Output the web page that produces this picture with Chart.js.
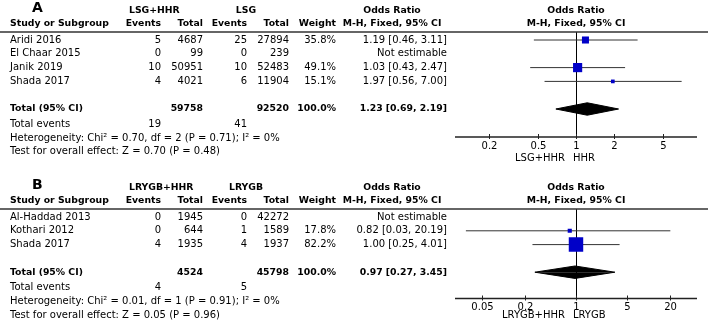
<!DOCTYPE html>
<html>
<head>
<meta charset="utf-8">
<script src="https://cdn.jsdelivr.net/npm/chart.js@4.4.0/dist/chart.umd.min.js"></script>
<style>
  html, body { margin: 0; padding: 0; background: #fff; }
  #wrap { position: relative; width: 708px; height: 325px; }
  canvas { position: absolute; left: 0; }
</style>
</head>
<body>
<div id="wrap">
  <canvas id="panelA" width="708" height="163" style="top:0"></canvas>
  <canvas id="panelB" width="708" height="162" style="top:163px"></canvas>
</div>
<script>
// Panel A: LSG+HHR vs LSG
const studiesA = ['Aridi 2016', 'El Chaar 2015', 'Janik 2019', 'Shada 2017'];
const eventsExpA = [5, 0, 10, 4];
const totalExpA = [4687, 99, 50951, 4021];
const eventsCtlA = [25, 0, 10, 6];
const totalCtlA = [27894, 239, 52483, 11904];
const weightA = [35.8, null, 49.1, 15.1];
const orA = [1.19, null, 1.03, 1.97];
const loA = [0.46, null, 0.43, 0.56];
const hiA = [3.11, null, 2.47, 7.00];
const pooledA = [1.23, 0.69, 2.19];          // OR, lower, upper
const sumsA = [59758, 92520, 19, 41];         // totals and total events
const hetA = [0.70, 2, 0.71, 0];              // Chi2, df, P, I2
const effectA = [0.70, 0.48];                 // Z, P
const ticksA = [0.2, 0.5, 1, 2, 5];
const groupsA = ['LSG+HHR', 'LSG'];
const favoursA = ['LSG+HHR', 'HHR'];

// Panel B: LRYGB+HHR vs LRYGB
const studiesB = ['Al-Haddad 2013', 'Kothari 2012', 'Shada 2017'];
const eventsExpB = [0, 0, 4];
const totalExpB = [1945, 644, 1935];
const eventsCtlB = [0, 1, 4];
const totalCtlB = [42272, 1589, 1937];
const weightB = [null, 17.8, 82.2];
const orB = [null, 0.82, 1.00];
const loB = [null, 0.03, 0.25];
const hiB = [null, 20.19, 4.01];
const pooledB = [0.97, 0.27, 3.45];
const sumsB = [4524, 45798, 4, 5];
const hetB = [0.01, 1, 0.91, 0];
const effectB = [0.05, 0.96];
const ticksB = [0.05, 0.2, 1, 5, 20];
const groupsB = ['LRYGB+HHR', 'LRYGB'];
const favoursB = ['LRYGB+HHR', 'LRYGB'];

const BLUE = '#0000c8';
const FONT = '"DejaVu Sans", Verdana, sans-serif';
const STEP = 13.8;   // px per table row
// right edges of the table columns
const COLS = { ev1: 161, tot1: 203, ev2: 247, tot2: 289, weight: 336, or: 447 };

function txt(ctx, s, x, y, align, bold, size) {
    // DejaVu bold runs wide, so shrink it a little to match the reference width
    const px = size || (bold ? 9.3 : 10);
    ctx.font = (bold ? 'bold ' : '') + px + 'px ' + FONT;
    ctx.textAlign = align || 'left';
    ctx.textBaseline = 'middle';
    ctx.fillStyle = '#000';
    ctx.fillText(s, x, y);
}

function ciText(or, lo, hi) {
    return `${or.toFixed(2)} [${lo.toFixed(2)}, ${hi.toFixed(2)}]`;
}

function makePanel(id, p) {
    const n = p.studies.length;
    const totalRow = n + 1;
    const yMax = (p.axisY - p.headerY - 8) / STEP;

    const idx = p.or.map((v, i) => i).filter(i => p.or[i] != null);
    const squares = {
        data: idx.map(i => ({ x: p.or[i], y: i })),
        pointStyle: 'rect',
        pointRadius: idx.map(i => (1.3 + 0.16 * p.weight[i]) / Math.SQRT2),
        backgroundColor: BLUE,
        borderWidth: 0
    };
    const ciLines = idx.map(i => ({
        data: [{ x: p.lo[i], y: i }, { x: p.hi[i], y: i }],
        showLine: true,
        borderColor: '#333',
        borderWidth: 1,
        pointRadius: 0
    }));
    const h = 0.45;
    const [est, plo, phi] = p.pooled;
    const diamondTop = {
        data: [{ x: plo, y: totalRow }, { x: est, y: totalRow - h }, { x: phi, y: totalRow }],
        showLine: true, tension: 0, pointRadius: 0,
        borderColor: '#000', borderWidth: 1,
        backgroundColor: '#000', fill: { value: totalRow }
    };
    const diamondBottom = Object.assign({}, diamondTop, {
        data: [{ x: plo, y: totalRow }, { x: est, y: totalRow + h }, { x: phi, y: totalRow }]
    });

    const forestPlugin = {
        id: 'forest',
        beforeDatasetsDraw(chart) {
            const { ctx, chartArea } = chart;
            const x1 = chart.scales.x.getPixelForValue(1);
            ctx.save();
            ctx.strokeStyle = '#000';
            ctx.lineWidth = 1;
            ctx.beginPath();
            ctx.moveTo(Math.round(x1) + 0.5, chartArea.top);
            ctx.lineTo(Math.round(x1) + 0.5, chartArea.bottom);
            ctx.stroke();
            ctx.restore();
        },
        afterDraw(chart) {
            const { ctx, chartArea } = chart;
            const xs = chart.scales.x, ys = chart.scales.y;
            const top = chartArea.top, bot = chartArea.bottom;
            ctx.save();
            // header rule
            ctx.strokeStyle = '#333';
            ctx.lineWidth = 1.5;
            ctx.beginPath();
            ctx.moveTo(0, top);
            ctx.lineTo(chart.width, top);
            ctx.stroke();
            // x axis
            ctx.strokeStyle = '#222';
            ctx.lineWidth = 1.3;
            ctx.beginPath();
            ctx.moveTo(chartArea.left, bot);
            ctx.lineTo(chartArea.right, bot);
            ctx.stroke();
            ctx.lineWidth = 1;
            p.ticks.forEach(t => {
                const x = Math.round(xs.getPixelForValue(t)) + 0.5;
                ctx.beginPath();
                ctx.moveTo(x, bot - 3);
                ctx.lineTo(x, bot + 2);
                ctx.stroke();
                txt(ctx, String(t), x, bot + 9, 'center');
            });
            const x1 = xs.getPixelForValue(1);
            txt(ctx, p.favours[0], x1 - 11, bot + p.labelGap, 'right');
            txt(ctx, p.favours[1], x1 - 3, bot + p.labelGap, 'left');

            // table header
            txt(ctx, p.letter, 32, top - 24, 'left', true, 14);
            txt(ctx, p.groups[0], 129, top - 21, 'left', true);
            txt(ctx, p.groups[1], 246, top - 21, 'center', true);
            txt(ctx, 'Odds Ratio', 392, top - 21, 'center', true);
            txt(ctx, 'Odds Ratio', x1, top - 21, 'center', true);
            const hy = top - 8;
            txt(ctx, 'Study or Subgroup', 10, hy, 'left', true);
            txt(ctx, 'Events', COLS.ev1, hy, 'right', true);
            txt(ctx, 'Total', COLS.tot1, hy, 'right', true);
            txt(ctx, 'Events', COLS.ev2, hy, 'right', true);
            txt(ctx, 'Total', COLS.tot2, hy, 'right', true);
            txt(ctx, 'Weight', COLS.weight, hy, 'right', true);
            txt(ctx, 'M-H, Fixed, 95% CI', 392, hy, 'center', true);
            txt(ctx, 'M-H, Fixed, 95% CI', x1, hy, 'center', true);

            // study rows
            p.studies.forEach((s, i) => {
                const y = ys.getPixelForValue(i);
                txt(ctx, s, 10, y);
                txt(ctx, String(p.evE[i]), COLS.ev1, y, 'right');
                txt(ctx, String(p.totE[i]), COLS.tot1, y, 'right');
                txt(ctx, String(p.evC[i]), COLS.ev2, y, 'right');
                txt(ctx, String(p.totC[i]), COLS.tot2, y, 'right');
                if (p.weight[i] != null) txt(ctx, p.weight[i].toFixed(1) + '%', COLS.weight, y, 'right');
                txt(ctx, p.or[i] == null ? 'Not estimable' : ciText(p.or[i], p.lo[i], p.hi[i]), COLS.or, y, 'right');
            });

            // totals
            const ty = ys.getPixelForValue(totalRow);
            txt(ctx, 'Total (95% CI)', 10, ty, 'left', true);
            txt(ctx, String(p.sums[0]), COLS.tot1, ty, 'right', true);
            txt(ctx, String(p.sums[1]), COLS.tot2, ty, 'right', true);
            txt(ctx, '100.0%', COLS.weight, ty, 'right', true);
            txt(ctx, ciText(est, plo, phi), COLS.or, ty, 'right', true);
            const ey = ys.getPixelForValue(n + 2.1);
            txt(ctx, 'Total events', 10, ey);
            txt(ctx, String(p.sums[2]), COLS.ev1, ey, 'right');
            txt(ctx, String(p.sums[3]), COLS.ev2, ey, 'right');
            const [chi, df, ph, i2] = p.het;
            txt(ctx, `Heterogeneity: Chi² = ${chi.toFixed(2)}, df = ${df} (P = ${ph.toFixed(2)}); I² = ${i2}%`,
                10, ys.getPixelForValue(n + 3.1));
            txt(ctx, `Test for overall effect: Z = ${p.effect[0].toFixed(2)} (P = ${p.effect[1].toFixed(2)})`,
                10, ys.getPixelForValue(n + 4.1));
            ctx.restore();
        }
    };

    const canvas = document.getElementById(id);
    return new Chart(canvas.getContext('2d'), {
        type: 'scatter',
        data: { datasets: [squares, diamondTop, diamondBottom].concat(ciLines) },
        options: {
            responsive: false,
            animation: false,
            events: [],
            layout: { padding: { left: 455, right: 11, top: p.headerY, bottom: canvas.height - p.axisY } },
            scales: {
                x: { type: 'logarithmic', min: p.xMin, max: p.xMax, display: false },
                y: { type: 'linear', min: -8 / STEP, max: yMax, reverse: true, display: false }
            },
            plugins: { legend: { display: false }, tooltip: { enabled: false } }
        },
        plugins: [forestPlugin]
    });
}

makePanel('panelA', {
    letter: 'A', studies: studiesA, evE: eventsExpA, totE: totalExpA, evC: eventsCtlA, totC: totalCtlA,
    weight: weightA, or: orA, lo: loA, hi: hiA, pooled: pooledA, sums: sumsA, het: hetA, effect: effectA,
    ticks: ticksA, groups: groupsA, favours: favoursA,
    headerY: 32, axisY: 137, xMin: 0.1076, xMax: 9.29, labelGap: 21
});
makePanel('panelB', {
    letter: 'B', studies: studiesB, evE: eventsExpB, totE: totalExpB, evC: eventsCtlB, totC: totalCtlB,
    weight: weightB, or: orB, lo: loB, hi: hiB, pooled: pooledB, sums: sumsB, het: hetB, effect: effectB,
    ticks: ticksB, groups: groupsB, favours: favoursB,
    headerY: 46, axisY: 135.5, xMin: 0.0212, xMax: 47.2, labelGap: 17
});
</script>
</body>
</html>
